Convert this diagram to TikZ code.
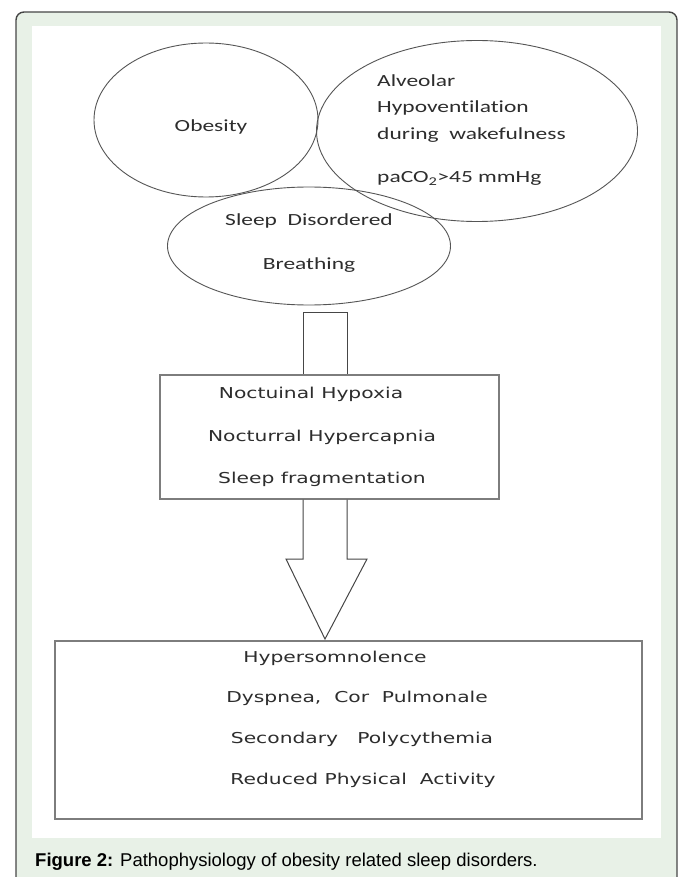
\documentclass[tikz,border=0pt]{standalone}
\usepackage{fontspec}
\setmainfont{Liberation Sans}
\newfontfamily\ellfont[FakeStretch=1.38, Ligatures=NoCommon]{Carlito}
\newfontfamily\boxfont[FakeStretch=1.35, Ligatures=NoCommon]{DejaVu Sans}
\usetikzlibrary{shapes.geometric}
\definecolor{panelgreen}{RGB}{232,241,231}
\definecolor{framegray}{RGB}{70,70,70}
\definecolor{linegray}{RGB}{85,85,85}
\definecolor{boxgray}{RGB}{125,125,125}
\definecolor{inkgray}{RGB}{45,45,45}

\begin{document}
\begin{tikzpicture}[x=1pt, y=-1pt,
  blob/.style={ellipse, draw=linegray, line width=0.9pt, inner sep=0pt},
  blobtext/.style={font=\ellfont\fontsize{17}{26.5}\selectfont, text=inkgray, inner sep=0pt},
  stage/.style={rectangle, draw=boxgray, line width=1.3pt, inner sep=0pt},
  stagetext/.style={font=\boxfont\fontsize{15}{18}\selectfont, text=inkgray, inner sep=0pt},
  shaft/.style={draw=framegray, line width=1pt, line join=miter}]

\useasboundingbox (0,0) rectangle (681,877) ;

% panel
\draw [fill=panelgreen, draw=framegray, line width=1.4pt, rounded corners=8pt] (16,12) rectangle (677,900) ;
\fill [white] (32,26) rectangle (661,838) ;

% the three ellipses
\node [blob, minimum width=224pt, minimum height=154pt] (obesity) at (206,120) {} ;
\node [blob, minimum width=321pt, minimum height=181pt] (alveolar) at (477,131) {} ;
\node [blob, minimum width=283pt, minimum height=118pt] (sdb) at (309,246) {} ;

\node [blobtext] (obesitytxt) at (211,127) {Obesity} ;
\node [blobtext, anchor=west, align=left] (alveolartxt) at (377,130)
  {Alveolar\\Hypoventilation\\during\ \ wakefulness\\[16.5pt]paCO\textsubscript{2}>45 mmHg} ;
\node [blobtext, font=\ellfont\fontsize{17}{44}\selectfont, align=center] (sdbtxt) at (309,243)
  {Sleep\ \ Disordered\\Breathing} ;

% middle box
\node [stage, minimum width=339pt, minimum height=124pt] (night) at (329.5,437) {} ;
\node [stagetext] (hypoxia) at (311,394) {Noctuinal Hypoxia} ;
\node [stagetext] (hypercap) at (322,437) {Nocturral Hypercapnia} ;
\node [stagetext] (fragment) at (322,479) {Sleep fragmentation} ;

% bottom box
\node [stage, minimum width=587pt, minimum height=178pt] (result) at (348.5,730) {} ;
\node [stagetext] (hypersom) at (335,658) {Hypersomnolence} ;
\node [stagetext] (dyspnea) at (357,698) {Dyspnea,\ \ Cor\ \ Pulmonale} ;
\node [stagetext] (polycyt) at (362,739) {Secondary\ \ \ Polycythemia} ;
\node [stagetext] (activity) at (363,780) {Reduced Physical\ \ Activity} ;

% narrow arrow from the ellipses into the middle box
\coordinate (nl) at (303,312) ;
\coordinate (nr) at (347,312) ;
\draw [shaft] (night.north -| nl) to (nl) to (nr) to (night.north -| nr) ;

% wide arrow from the middle box to the bottom box
\coordinate (hl) at (303,559) ;
\coordinate (hr) at (347,559) ;
\coordinate (wl) at (286,559) ;
\coordinate (wr) at (367,559) ;
\coordinate (tip) at (325,639) ;
\draw [shaft] (night.south -| hl) to (hl) to (wl) to (tip) to (wr) to (hr) to (night.south -| hr) ;

% caption
\node [anchor=west, inner sep=0pt, font=\fontsize{18.5}{22}\selectfont] (caption) at (35,862)
  {\textbf{Figure 2:} Pathophysiology of obesity related sleep disorders.} ;

\end{tikzpicture}
\end{document}
